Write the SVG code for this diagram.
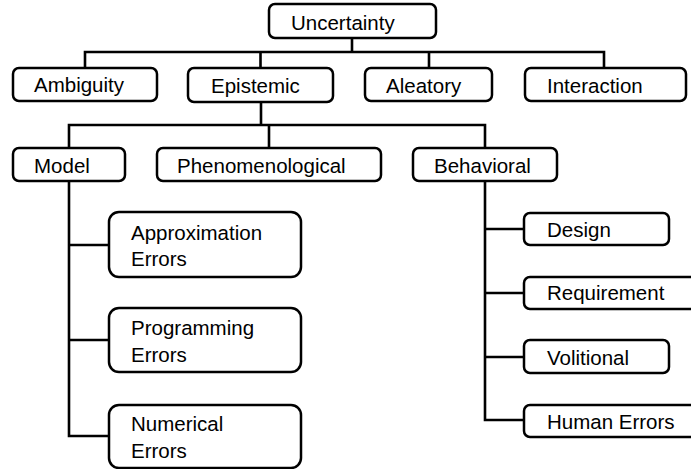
<svg xmlns="http://www.w3.org/2000/svg" width="691" height="469" viewBox="0 0 691 469">
<style>
.box{fill:#fff;stroke:#000;stroke-width:2.5}
.lbl{font-family:"Liberation Sans",Arial,sans-serif;font-size:20.5px;fill:#000}
.con{fill:none;stroke:#000;stroke-width:2.6;stroke-linecap:square}
</style>
<rect width="691" height="469" fill="#fff"/>
<g id="connectors">
<path class="con" d="M352,38V52M85,52H604M85,52V68M260.5,52V68M429,52V68M604,52V68"/>
<path class="con" d="M261,102V125M69,125H485M69,125V148M269,125V148M485,125V148"/>
<path class="con" d="M69,181V436M69,245H109M69,340H109M69,436H109"/>
<path class="con" d="M485,181V420M485,229H524M485,293H524M485,357H524M485,420H524"/>
</g>
<g id="uncertainty"><rect class="box" x="269" y="4" width="167" height="34" rx="6"/><text class="lbl" x="291" y="30">Uncertainty</text></g>
<g id="ambiguity"><rect class="box" x="13" y="68" width="144" height="33" rx="6"/><text class="lbl" x="34" y="92">Ambiguity</text></g>
<g id="epistemic"><rect class="box" x="188" y="68" width="145" height="34" rx="6"/><text class="lbl" x="211" y="93">Epistemic</text></g>
<g id="aleatory"><rect class="box" x="365" y="68" width="127" height="33" rx="6"/><text class="lbl" x="386" y="93">Aleatory</text></g>
<g id="interaction"><rect class="box" x="525" y="68" width="161" height="33" rx="6"/><text class="lbl" x="547" y="93">Interaction</text></g>
<g id="model"><rect class="box" x="13" y="148" width="112" height="33" rx="6"/><text class="lbl" x="34" y="173">Model</text></g>
<g id="phenomenological"><rect class="box" x="157" y="148" width="224" height="33" rx="6"/><text class="lbl" x="177" y="173">Phenomenological</text></g>
<g id="behavioral"><rect class="box" x="413" y="148" width="144" height="33" rx="6"/><text class="lbl" x="434" y="173">Behavioral</text></g>
<g id="approximation"><rect class="box" x="109" y="212" width="192" height="65" rx="10"/><text class="lbl" x="131" y="240">Approximation</text><text class="lbl" x="131" y="266">Errors</text></g>
<g id="programming"><rect class="box" x="109" y="308" width="192" height="64" rx="10"/><text class="lbl" x="131" y="335">Programming</text><text class="lbl" x="131" y="362">Errors</text></g>
<g id="numerical"><rect class="box" x="109" y="405" width="192" height="63" rx="10"/><text class="lbl" x="131" y="431">Numerical</text><text class="lbl" x="131" y="458">Errors</text></g>
<g id="design"><rect class="box" x="524" y="213" width="145" height="32" rx="6"/><text class="lbl" x="547" y="237">Design</text></g>
<g id="requirement"><rect class="box" x="524" y="277" width="180" height="32" rx="6"/><text class="lbl" x="547" y="300">Requirement</text></g>
<g id="volitional"><rect class="box" x="524" y="340" width="145" height="33" rx="6"/><text class="lbl" x="547" y="365">Volitional</text></g>
<g id="human-errors"><rect class="box" x="524" y="405" width="180" height="32" rx="6"/><text class="lbl" x="547" y="429">Human Errors</text></g>
</svg>
